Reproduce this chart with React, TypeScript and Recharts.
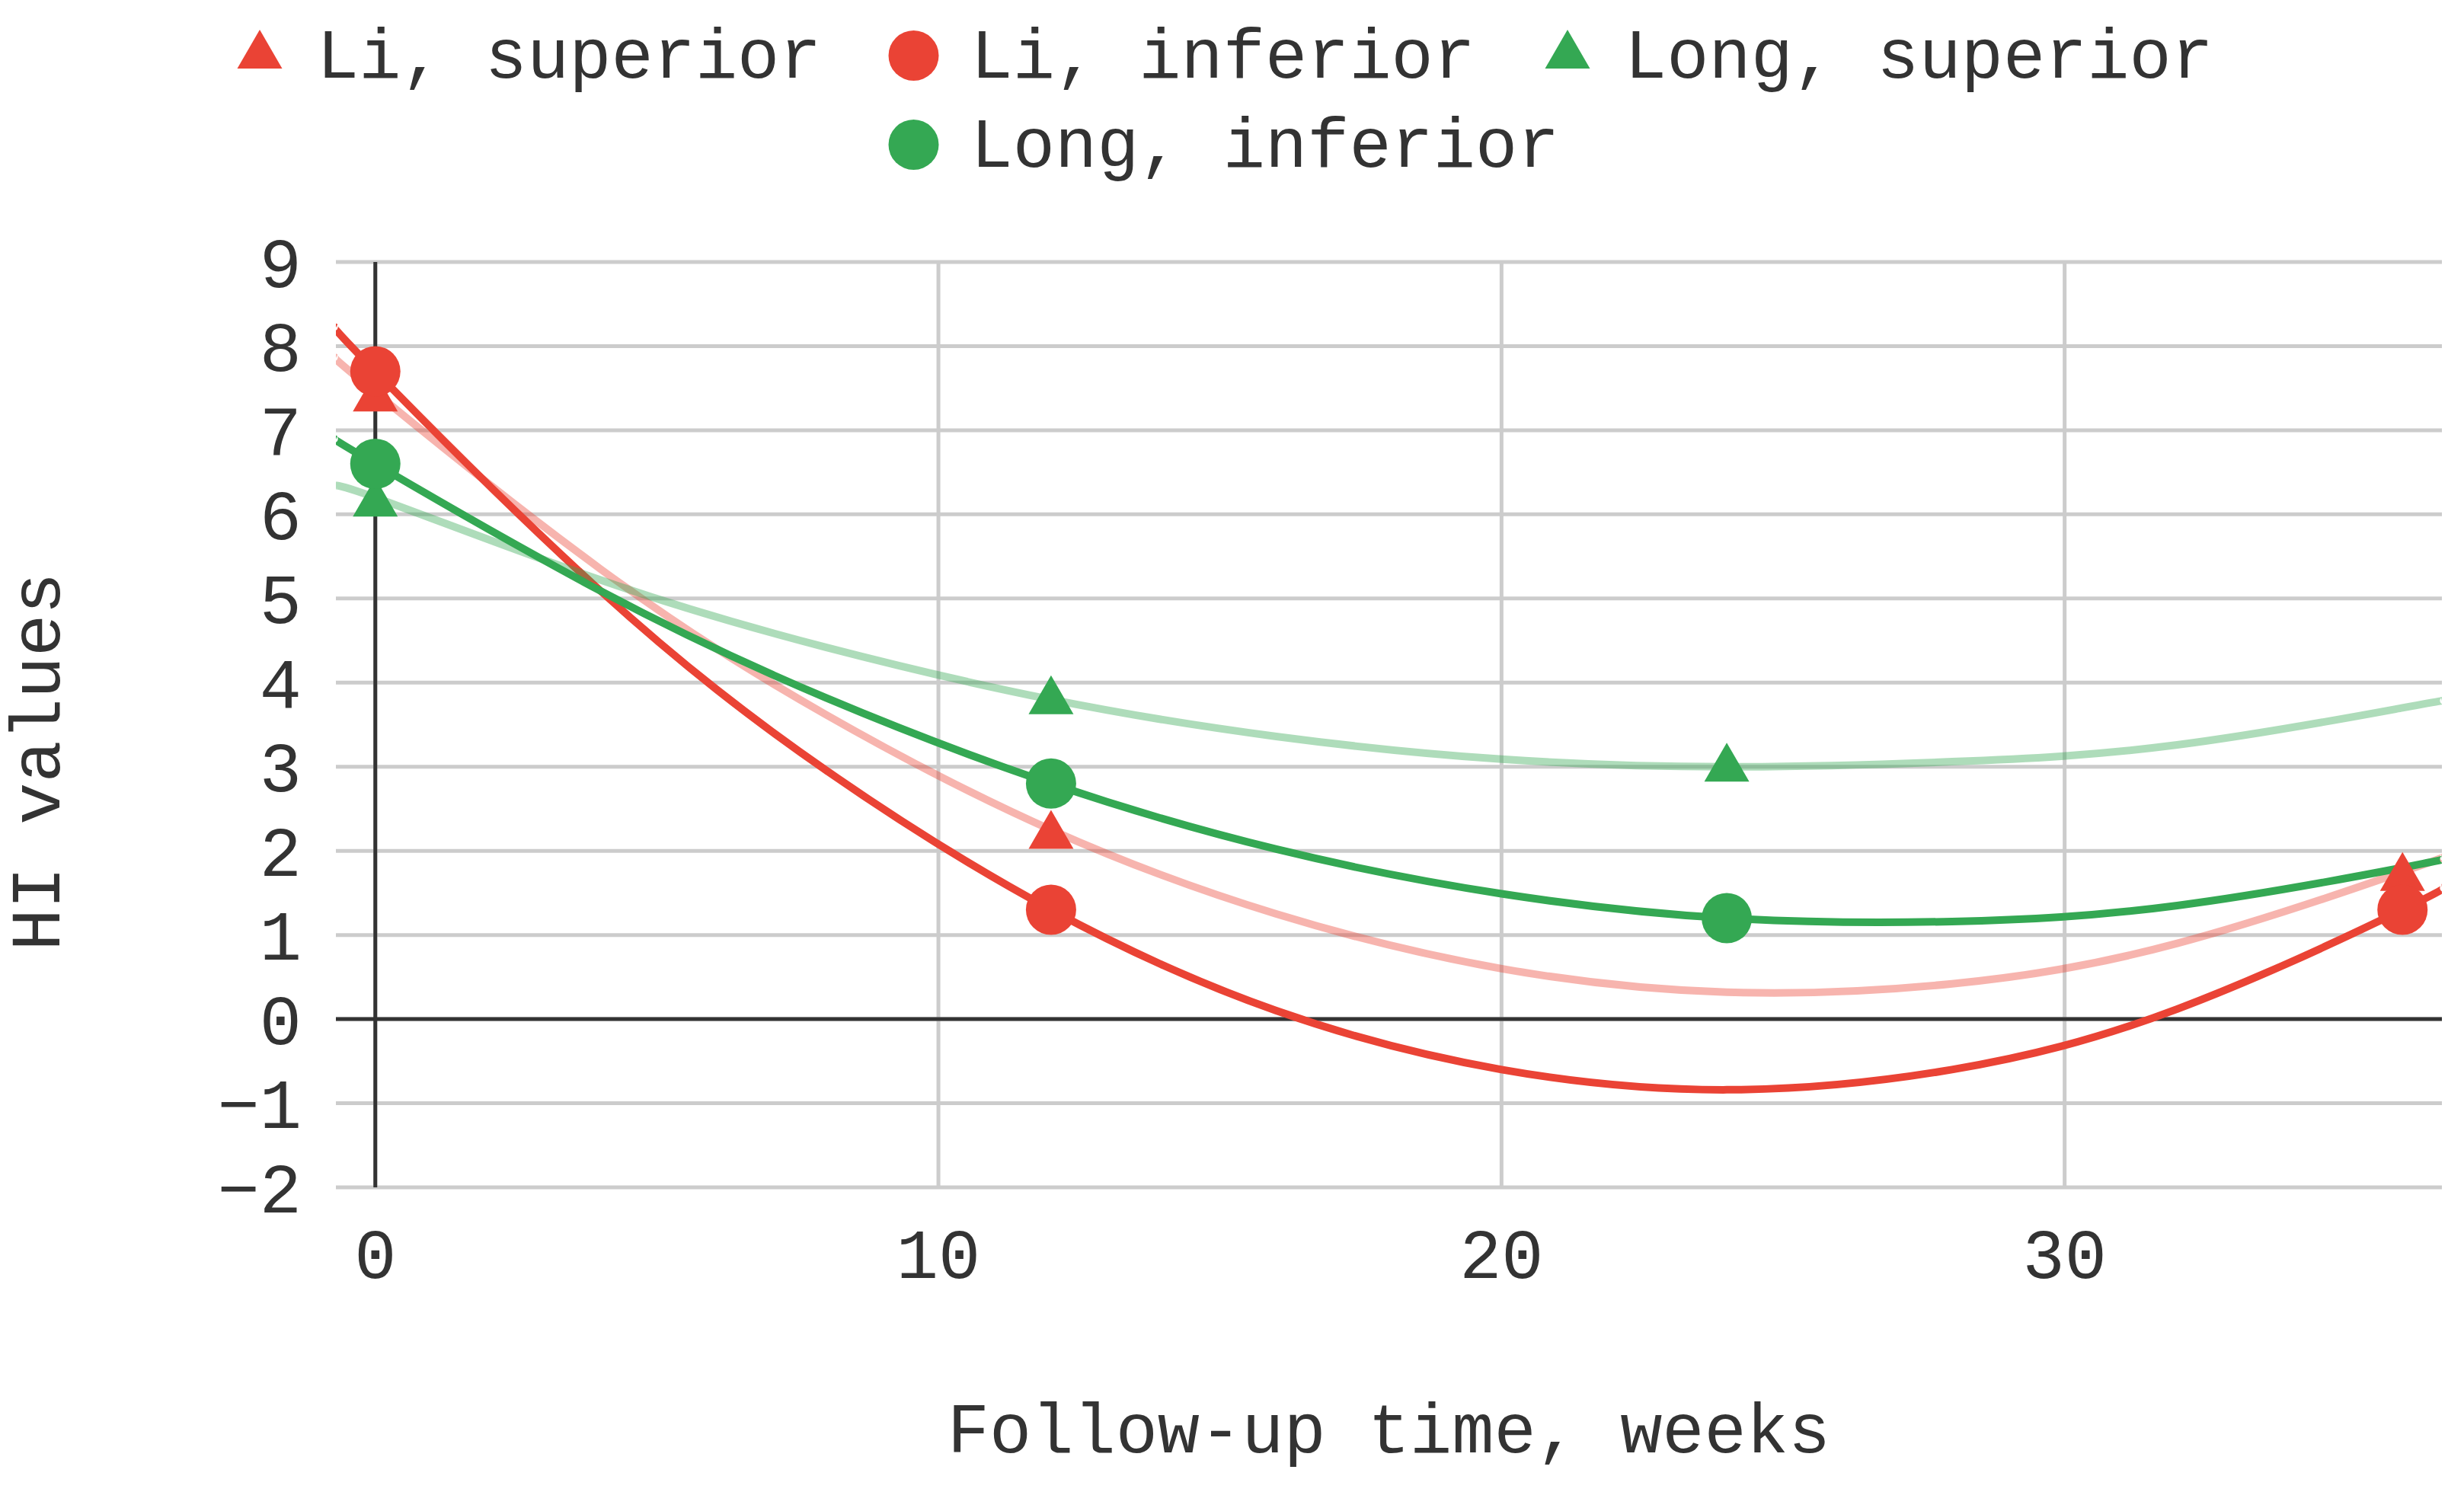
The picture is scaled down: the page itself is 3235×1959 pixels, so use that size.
import React from 'react';
import {
  ComposedChart, Line, Scatter, XAxis, YAxis, CartesianGrid, ReferenceLine
} from 'recharts';

// fitted curves at these weeks
const FIT_WEEKS = [-0.7, 0, 4, 8, 12, 16, 20, 24, 28, 32, 36, 36.7];
const LI_SUP_FIT = [7.86, 7.45, 5.35, 3.62, 2.25, 1.25, 0.6, 0.32, 0.42, 0.9, 1.75, 1.92];
const LI_INF_FIT = [8.22, 7.7, 5.09, 2.96, 1.3, 0.1, -0.6, -0.84, -0.6, 0.12, 1.3, 1.56];
const LONG_SUP_FIT = [6.3, 6.2, 5.22, 4.42, 3.8, 3.36, 3.09, 3.0, 3.06, 3.26, 3.7, 3.78];
const LONG_INF_FIT = [6.89, 6.6, 5.09, 3.82, 2.8, 2.02, 1.49, 1.2, 1.16, 1.35, 1.8, 1.9];

// measured points
const LI_WEEKS = [0, 12, 36];
const LI_SUP_HI = [7.45, 2.25, 1.75];
const LI_INF_HI = [7.7, 1.3, 1.3];
const LONG_WEEKS = [0, 12, 24];
const LONG_SUP_HI = [6.2, 3.85, 3.05];
const LONG_INF_HI = [6.6, 2.8, 1.2];

const X_TICKS = [0, 10, 20, 30];
const Y_TICKS = [-2, -1, 0, 1, 2, 3, 4, 5, 6, 7, 8, 9];

const RED = '#EA4335';
const GREEN = '#34A853';
const FONT = "'Courier New', 'Liberation Mono', monospace";
const TEXT = '#333333';

const toPoints = (xs: number[], ys: number[]) => xs.map((x, i) => ({ x, y: ys[i] }));

type Shape = 'triangle' | 'circle';

const series = [
  { name: 'Li, superior', color: RED, shape: 'triangle' as Shape, points: toPoints(LI_WEEKS, LI_SUP_HI), fit: toPoints(FIT_WEEKS, LI_SUP_FIT), faint: true },
  { name: 'Li, inferior', color: RED, shape: 'circle' as Shape, points: toPoints(LI_WEEKS, LI_INF_HI), fit: toPoints(FIT_WEEKS, LI_INF_FIT), faint: false },
  { name: 'Long, superior', color: GREEN, shape: 'triangle' as Shape, points: toPoints(LONG_WEEKS, LONG_SUP_HI), fit: toPoints(FIT_WEEKS, LONG_SUP_FIT), faint: true },
  { name: 'Long, inferior', color: GREEN, shape: 'circle' as Shape, points: toPoints(LONG_WEEKS, LONG_INF_HI), fit: toPoints(FIT_WEEKS, LONG_INF_FIT), faint: false },
];

const Marker = ({ shape, color, cx, cy }: { shape: Shape; color: string; cx: number; cy: number }) => {
  if (shape === 'circle') return <circle cx={cx} cy={cy} r={33} fill={color} />;
  return (
    <polygon
      points={`${cx},${cy - 26} ${cx + 29.5},${cy + 25} ${cx - 29.5},${cy + 25}`}
      fill={color}
    />
  );
};

// legend laid out like the original: 3 columns, last item on row 2 in the middle column
const LegendBox = () => {
  const slots = [[0, 0], [1, 0], [2, 0], [1, 1]];
  return (
    <svg width={3235} height={260} style={{ position: 'absolute', left: 0, top: 0 }}>
      {series.map((s, i) => {
        const cx = 341 + slots[i][0] * 858.5;
        const base = 102 + slots[i][1] * 117;
        const cy = s.shape === 'circle' ? base - 29 : base - 37;
        return (
          <g key={s.name}>
            <Marker shape={s.shape} color={s.color} cx={cx} cy={cy} />
            <text x={cx + 75} y={base} fontSize={92} fontFamily={FONT} fill={TEXT}>
              {s.name}
            </text>
          </g>
        );
      })}
    </svg>
  );
};

const YTitle = () => (
  <text
    x={78}
    y={1000}
    transform="rotate(-90 78 1000)"
    textAnchor="middle"
    fontSize={92}
    fontFamily={FONT}
    fill={TEXT}
  >
    HI values
  </text>
);

const tickStyle = { fontSize: 92, fontFamily: FONT, fill: TEXT };

const App: React.FC = () => {
  return (
    <div style={{ position: 'absolute', left: 0, top: 0, width: 3235, height: 1959, background: '#fff', fontFamily: FONT }}>
      <ComposedChart width={3235} height={1959} margin={{ top: 344, right: 29, bottom: 0, left: 0 }}>
        <CartesianGrid stroke="#cccccc" strokeWidth={5} verticalValues={X_TICKS} horizontalValues={Y_TICKS} />
        <XAxis
          type="number"
          dataKey="x"
          domain={[-0.7, 36.7]}
          ticks={X_TICKS}
          allowDataOverflow
          interval={0}
          axisLine={false}
          tickLine={false}
          tickSize={0}
          tickMargin={54}
          height={400}
          tick={tickStyle}
          label={{ value: 'Follow-up time, weeks', position: 'insideBottom', offset: 52, fontSize: 92, fontFamily: FONT, fill: TEXT }}
        />
        <YAxis
          type="number"
          dataKey="y"
          domain={[-2, 9]}
          ticks={Y_TICKS}
          allowDataOverflow
          interval={0}
          axisLine={false}
          tickLine={false}
          tickSize={0}
          tickMargin={45}
          width={441}
          tick={tickStyle}
          tickFormatter={(v: number) => (v < 0 ? `\u2212${-v}` : String(v))}
          label={<YTitle />}
        />
        <ReferenceLine y={0} stroke="#333333" strokeWidth={5} />
        <ReferenceLine x={0} stroke="#333333" strokeWidth={5} />
        {series.map((s) => (
          <Line
            key={`fit-${s.name}`}
            data={s.fit}
            dataKey="y"
            type="natural"
            stroke={s.color}
            strokeOpacity={s.faint ? 0.4 : 1}
            strokeWidth={10}
            dot={false}
            activeDot={false}
            legendType="none"
            isAnimationActive={false}
          />
        ))}
        {series.map((s) => (
          <Scatter
            key={`pts-${s.name}`}
            name={s.name}
            data={s.points}
            dataKey="y"
            fill={s.color}
            shape={(p: any) => <Marker shape={s.shape} color={s.color} cx={p.cx} cy={p.cy} />}
            isAnimationActive={false}
          />
        ))}
      </ComposedChart>
      <LegendBox />
    </div>
  );
};

export default App;
